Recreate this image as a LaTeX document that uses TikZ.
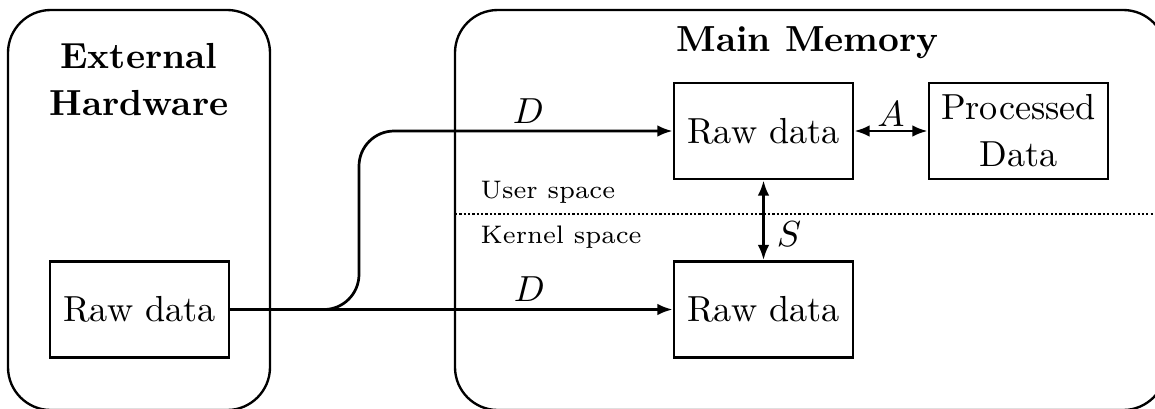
\documentclass[tikz,border=0pt]{standalone}
\usetikzlibrary{arrows.meta}
\begin{document}
\begin{tikzpicture}[x=0.276pt,y=-0.276pt,
  region/.style={draw, line width=0.65pt, rounded corners=11.8pt},
  databox/.style={draw, line width=0.75pt, minimum width=49.4pt, minimum height=26.5pt, inner sep=0pt, align=center},
  arr/.style={line width=0.75pt, -{Latex[length=4.2pt,width=3.2pt]}},
  arrboth/.style={line width=0.75pt, {Latex[length=4.2pt,width=3.2pt]}-{Latex[length=4.2pt,width=3.2pt]}},
  title/.style={font=\bfseries, align=center, inner sep=0pt},
  spacelabel/.style={font=\scriptsize, inner sep=0pt}]
\clip (0,0) rectangle (1155,408);
% regions
\draw[region] (8,10) rectangle (270,410);
\draw[region] (455,10) rectangle (1166,410);
% titles
\node[title, anchor=north] (ext) at (139,43) {External\\[0.9pt]Hardware};
\node[title, anchor=base] (mem) at (807.5,51) {Main Memory};
% data boxes
\node[databox] (rawL) at (139.5,309.5) {Raw data};
\node[databox] (rawU) at (763.5,131) {Raw data};
\node[databox] (rawK) at (763.5,309.5) {Raw data};
\node[databox] (proc) at (1018.5,131) {Processed\\[1pt]Data};
% user / kernel separation
\coordinate (sepL) at (455,214);
\coordinate (sepR) at (1166,214);
\draw[line width=0.7pt, dash pattern=on 0.6pt off 0.6pt] (sepL) -- (sepR);
\node[spacelabel, anchor=base west] (user) at (480,198) {User space};
\node[spacelabel, anchor=base west] (kern) at (480,243) {Kernel space};
% connectors
\coordinate (bend) at (359,309.5);
\draw[arr] (rawL.east) -- node[pos=0.676, above, inner sep=1.7pt] {$D$} (rawK.west);
\draw[arr, rounded corners=9.7pt] (rawL.east) -- (bend) |- node[pos=0.77, above, inner sep=1.7pt] {$D$} (rawU.west);
\draw[arrboth] (rawU.east) -- node[above, inner sep=1pt] {$A$} (proc.west);
\draw[arrboth] (rawU.south) -- node[pos=0.68, right] {$S$} (rawK.north);
\end{tikzpicture}
\end{document}
